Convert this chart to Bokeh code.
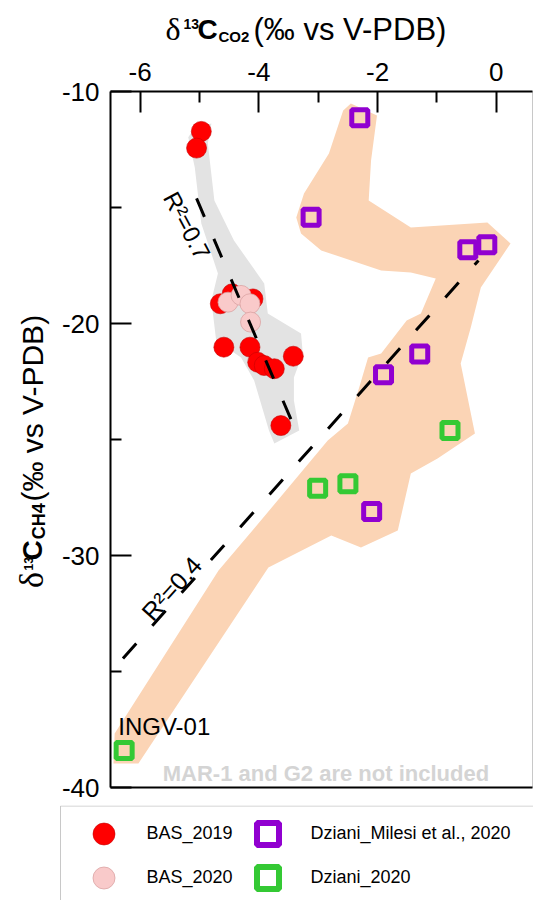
import math
from bokeh.plotting import figure
from bokeh.layouts import column, row
from bokeh.models import Range1d, LinearAxis, FixedTicker, Label, Legend, LegendItem
from bokeh.embed import file_html
from bokeh.resources import INLINE

# d13C-CO2 (x) and d13C-CH4 (y), per-mil vs V-PDB
bas2019_x = [-4.97, -5.05, -4.45, -4.65, -4.10, -4.59, -4.15, -4.02, -3.91, -3.74, -3.42, -3.63]
bas2019_y = [-11.72, -12.44, -18.72, -19.15, -18.94, -21.02, -21.02, -21.67, -21.81, -21.95, -21.41, -24.40]

bas2020_x = [-4.52, -4.30, -4.15, -4.14]
bas2020_y = [-19.08, -18.79, -19.15, -19.94]

milesi_x = [-2.30, -3.12, -0.48, -0.16, -1.29, -1.90, -2.10]
milesi_y = [-11.13, -15.42, -16.82, -16.61, -21.31, -22.21, -28.10]

dziani_x = [-0.78, -3.01, -2.50, -6.27]
dziani_y = [-24.61, -27.10, -26.91, -38.40]

# shaded fields around each group
bas_field_x = [-5.08, -4.80, -4.86, -4.75, -4.42, -3.91, -3.85, -3.29, -3.26, -3.41, -3.41, -3.32,
               -3.74, -3.83, -4.08, -4.30, -4.72, -4.80, -4.69, -4.97, -5.08, -5.19]
bas_field_y = [-11.55, -11.38, -12.24, -14.70, -16.42, -18.28, -19.57, -20.43, -21.29, -22.33, -23.32, -24.61,
               -25.17, -24.61, -22.46, -21.47, -20.73, -19.01, -17.84, -15.69, -13.28, -11.97]

dziani_field_x = [-1.02, -1.27, -1.51, -1.94, -2.16, -2.31, -2.50, -2.84, -4.08, -4.68, -6.43, -6.45,
                  -6.03, -3.84, -2.78, -2.28, -1.66, -1.44, -0.99, -0.36, -0.60, -0.43, -0.26, 0.24,
                  -0.15, -1.44, -2.15, -2.11, -2.01, -2.45, -2.58, -2.82, -3.24, -3.37, -3.29, -2.95,
                  -1.94, -1.44]
dziani_field_y = [-18.06, -19.57, -19.87, -21.29, -21.47, -22.76, -24.31, -25.04, -28.84, -30.65, -37.67, -38.97,
                  -38.97, -30.52, -29.14, -29.66, -28.92, -26.47, -25.82, -24.74, -21.72, -20.17, -18.45, -16.55,
                  -15.65, -15.86, -14.70, -12.97, -11.03, -10.52, -10.82, -12.67, -14.40, -15.43, -16.12, -16.85,
                  -17.72, -17.80]

# regression lines (end points)
fit_bas_x = [-5.05, -3.43]
fit_bas_y = [-14.61, -24.31]
fit_all_x = [-6.29, -0.30]
fit_all_y = [-34.44, -17.28]

x_ticks = [-6, -4, -2, 0]
y_ticks = [-10, -20, -30, -40]

FONT = "Liberation Sans"
W = 533
TOP_H = 48
LEFT_W = 58
MAIN_H = 757
LEG_H = 95


def blank(w, h, x0, y0):
    # helper figure whose data units are page pixels (y grows downwards)
    f = figure(width=w, height=h, x_range=Range1d(x0, x0 + w), y_range=Range1d(y0 + h, y0),
               x_axis_type=None, y_axis_type=None, output_backend="svg", toolbar_location=None,
               min_border=0, outline_line_color=None)
    return f


def txt(fig, x, y, t, font, size, style="normal", angle=0.0, align="left", color="black"):
    fig.add_layout(Label(x=x, y=y, text=t, text_font=font, text_font_size=size, text_font_style=style,
                         angle=angle, text_align=align, text_baseline="middle", text_color=color))


# ---- top title
top = blank(W, TOP_H, 0, 0)
txt(top, 165, 28, "δ", "Liberation Serif", "32px")
txt(top, 183, 23, "13", FONT, "14px", "bold")
txt(top, 197, 28.5, "C", FONT, "28px", "bold")
txt(top, 218, 36, "CO2", FONT, "15px", "bold")
txt(top, 253, 28.5, "(‰ vs V-PDB)", FONT, "31px")

# ---- left title (rotated, reads bottom to top)
left = blank(LEFT_W, MAIN_H, 0, TOP_H)
up = math.pi / 2
txt(left, 31, 588, "δ", "Liberation Serif", "34px", angle=up)
txt(left, 28, 569, "13", FONT, "12px", "bold", angle=up)
txt(left, 31.5, 558, "C", FONT, "28px", "bold", angle=up)
txt(left, 38, 535, "CH4", FONT, "18px", "bold", angle=up)
txt(left, 31.5, 494, "(‰ vs V-PDB)", FONT, "30px", angle=up)

# ---- main plot
p = figure(width=W - LEFT_W, height=MAIN_H, x_range=Range1d(-6.5, 0.61), y_range=Range1d(-40, -10),
           x_axis_location="above", output_backend="svg", toolbar_location=None,
           min_border_left=51, min_border_right=1, min_border_top=43, min_border_bottom=18)
p.xgrid.visible = False
p.ygrid.visible = False
p.outline_line_color = "#c8c8c8"
p.outline_line_width = 1

for ax, ticks, minor, standoff in [(p.xaxis[0], x_ticks, [-5, -3, -1], 11),
                                   (p.yaxis[0], y_ticks, [-15, -25, -35], 11)]:
    ax.ticker = FixedTicker(ticks=ticks, minor_ticks=minor)
    ax.major_label_overrides = {t: str(t) for t in ticks}
    ax.axis_line_width = 2
    ax.major_tick_line_width = 2
    ax.minor_tick_line_width = 2
    ax.major_tick_in = 21
    ax.major_tick_out = 0
    ax.minor_tick_in = 11
    ax.minor_tick_out = 0
    ax.major_label_text_font = FONT
    ax.major_label_text_font_size = "26px"
    ax.major_label_text_color = "black"
    ax.major_label_standoff = standoff

bottom = LinearAxis(ticker=FixedTicker(ticks=[]), axis_line_width=2, major_tick_in=0, major_tick_out=0,
                    minor_tick_in=0, minor_tick_out=0, major_label_text_font_size="0px")
p.add_layout(bottom, "below")

p.patch(bas_field_x, bas_field_y, fill_color="#e3e3e3", line_color=None)
p.patch(dziani_field_x, dziani_field_y, fill_color="#fbd4b5", line_color=None)

circle19 = dict(marker="circle", fill_color="#ff0000", line_color="#c80000", line_width=0.6)
circle20 = dict(marker="circle", fill_color="#f9caca", line_color="#dba3a3", line_width=0.8)
sq_mil = dict(marker="square", fill_alpha=0, line_color="#9100d0")
sq_dz = dict(marker="square", fill_alpha=0, line_color="#34c934")

p.scatter(bas2019_x, bas2019_y, size=20, **circle19)
p.scatter(bas2020_x, bas2020_y, size=20, **circle20)
p.scatter(milesi_x, milesi_y, size=16, line_width=5, **sq_mil)
p.scatter(dziani_x, dziani_y, size=16, line_width=5, **sq_dz)

p.line(fit_bas_x, fit_bas_y, line_color="black", line_width=3, line_dash="20 24")
p.line(fit_all_x, fit_all_y, line_color="black", line_width=3, line_dash="20 24")

txt(p, -5.21, -15.78, "R²=0.7", FONT, "24px", angle=math.radians(-62), align="center")
txt(p, -5.47, -31.42, "R²=0.4", FONT, "25px", angle=math.radians(48), align="center")
txt(p, dziani_x[3] - 0.1, -37.37, "INGV-01", FONT, "24px")
txt(p, -5.62, -39.40, "MAR-1 and G2 are not included", FONT, "22px", "bold", color="#d4d4d4")

# ---- legend (proxy points sit off the canvas, only their legend glyphs show)
y0 = TOP_H + MAIN_H
leg = blank(W, LEG_H, 0, y0)
leg.quad(left=[60], right=[560], top=[y0 + 0.5], bottom=[y0 + 200], fill_color="white",
         line_color="#c8c8c8", line_width=1)
l19 = leg.scatter([-50], [850], size=20, **circle19)
l20 = leg.scatter([-50], [850], size=20, **circle20)
lmil = leg.scatter([-50], [850], size=16, line_width=6, **sq_mil)
ldz = leg.scatter([-50], [850], size=16, line_width=6, **sq_dz)

legend_style = dict(padding=0, margin=0, spacing=0, glyph_width=55, glyph_height=55, label_standoff=16,
                    label_text_font=FONT, label_text_font_size="18px", label_text_color="black",
                    border_line_color=None, background_fill_alpha=0)
legend_rows = [("BAS_2019", l19, 75.5, 39.5),
               ("BAS_2020", l20, 75.5, -4.5),
               ("Dziani_Milesi et al., 2020", lmil, 239.5, 39.5),
               ("Dziani_2020", ldz, 239.5, -4.5)]
for label, r, lx, ly in legend_rows:
    leg.add_layout(Legend(items=[LegendItem(label=label, renderers=[r])], location=(lx, ly), **legend_style))

layout = column(top, row(left, p), leg)
open("out.html", "w").write(file_html(layout, INLINE))
